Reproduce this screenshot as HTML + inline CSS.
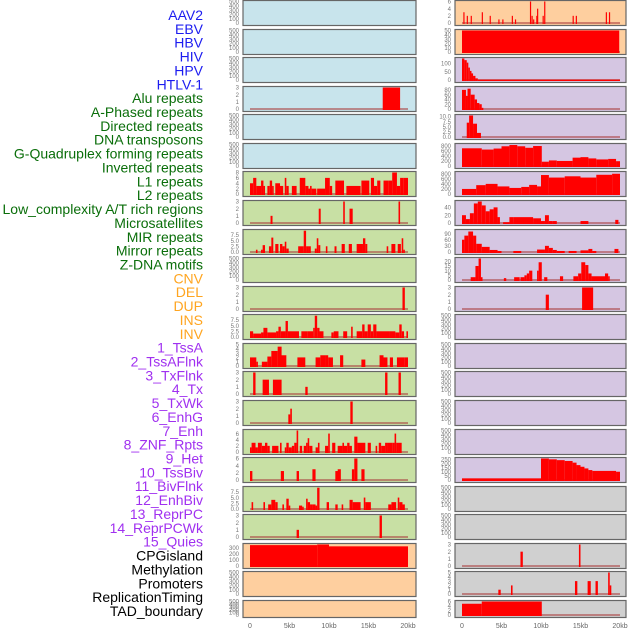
<!DOCTYPE html>
<html><head><meta charset="utf-8">
<style>
body{margin:0;background:#fff;width:630px;height:630px;overflow:hidden;font-family:"Liberation Sans",sans-serif}
svg{display:block}
</style></head>
<body>
<svg id="chart" width="630" height="630"></svg>
<script>
const labels=["AAV2","EBV","HBV","HIV","HPV","HTLV-1","Alu repeats","A-Phased repeats","Directed repeats","DNA transposons","G-Quadruplex forming repeats","Inverted repeats","L1 repeats","L2 repeats","Low_complexity A/T rich regions","Microsatellites","MIR repeats","Mirror repeats","Z-DNA motifs","CNV","DEL","DUP","INS","INV","1_TssA","2_TssAFlnk","3_TxFlnk","4_Tx","5_TxWk","6_EnhG","7_Enh","8_ZNF_Rpts","9_Het","10_TssBiv","11_BivFlnk","12_EnhBiv","13_ReprPC","14_ReprPCWk","15_Quies","CPGisland","Methylation","Promoters","ReplicationTiming","TAD_boundary"];
const labelGroups=[6,13,5,15,5];
const groupColors=["#1c1cf0","#0a6e0a","#ffa520","#a030f0","#000000"];
const xTicks=[0,5,10,15,20];
const xTickLabels=["0","5kb","10kb","15kb","20kb"];
const T500=[0,100,200,300,400,500];
// left column: [bg, ymax, ticks, runs [startKb,endKb,value]]
const leftBg=["#c8e4ec","#c8e4ec","#c8e4ec","#c8e4ec","#c8e4ec","#c8e4ec","#c8e0a4","#c8e0a4","#c8e0a4","#c8e0a4","#c8e0a4","#c8e0a4","#c8e0a4","#c8e0a4","#c8e0a4","#c8e0a4","#c8e0a4","#c8e0a4","#c8e0a4","#fecf9f","#fecf9f","#fecf9f"];
const leftMax=[500,500,500,3,500,500,8,3,9.4,500,3,9.4,5,3,3,7,6,9.4,3,350,500,500];
const leftTicks=[T500,T500,T500,[0,1,2,3],T500,T500,[0,2,4,6,8],[0,1,2,3],[0,2.5,5,7.5],T500,[0,1,2,3],[0,2.5,5,7.5],[0,1,2,3,4,5],[0,1,2,3],[0,1,2,3],[0,2,4,6],[0,2,4,6],[0,2.5,5,7.5],[0,1,2,3],[0,100,200,300],T500,T500];
const leftRuns=[[],[],[],[[16.8,19.0,3]],[],[],
[[0,0.4,4],[0.4,0.8,6],[0.8,1.4,3],[1.4,1.7,5],[1.7,1.9,3],[2.2,2.5,3],[2.5,2.8,5],[2.8,3.0,3],[3.2,3.8,4],[3.8,4.2,3],[4.4,4.6,6],[4.6,4.9,3],[5.3,5.9,3],[6.3,7.0,6],[7.0,7.4,3],[7.4,7.6,2],[7.6,7.8,3],[7.8,8.4,2],[8.5,9.5,2],[9.5,10.1,6],[10.1,10.4,3],[10.8,11.9,5],[12.2,14.0,3],[14.1,15.1,5],[15.3,15.7,6],[15.7,16.1,3],[16.1,16.5,5],[16.9,17.5,5],[17.5,18.0,5],[18.0,18.6,8],[18.6,19.0,3],[19.0,19.4,6],[19.4,20,6]],
[[2.6,2.85,1],[8.7,8.95,2],[11.8,12.0,3],[12.6,13.0,2],[18.8,19.0,3]],
[[0.75,0.95,1],[1.4,1.6,1],[1.6,1.9,3],[2.4,2.7,2.5],[2.7,2.95,6.3],[3.2,3.6,3.5],[3.8,4.1,3.5],[4.1,4.4,2.5],[4.4,4.6,4.5],[4.6,4.9,1.5],[6.1,6.8,2.5],[6.8,7.1,9.3],[7.1,7.4,2.5],[7.4,7.7,2.5],[8.2,8.45,1.5],[8.45,8.65,6],[8.65,8.9,3],[9.6,9.8,2.5],[10.7,10.95,2.5],[11.6,12.0,3.5],[12.5,12.9,3.5],[13.5,14.3,3.5],[14.3,14.6,6],[14.6,14.85,3.5],[17.3,17.5,2.5],[17.9,18.4,3.5],[18.7,19.1,3.5],[19.2,19.4,6],[19.4,19.6,1]],
[],[[19.3,19.6,3]],
[[0,0.4,2.5],[0.4,1.4,1.5],[1.4,1.7,2],[1.7,2.2,4],[2.2,3.3,2],[3.3,3.6,2.5],[3.6,3.9,4.5],[3.9,4.5,2.5],[4.5,4.8,7],[4.8,6.2,2.5],[6.5,7.3,2.5],[7.3,8.0,2.5],[8.0,8.2,4],[8.2,8.5,9.3],[8.5,8.8,4],[8.8,9.3,2.5],[10.3,10.6,2],[10.6,11.2,2.5],[11.8,12.3,2.5],[12.8,13.0,4.5],[13.5,14.2,2.5],[14.2,14.5,5.5],[14.5,14.9,2.5],[14.9,15.3,5.5],[15.3,15.6,2.5],[15.6,16.0,5.5],[16.0,17.6,2.5],[17.6,18.4,2.5],[18.4,18.9,2],[18.9,19.2,5.5],[19.2,19.5,2.5],[19.8,20,2.5]],
[[0,0.8,2],[0.8,1.0,1],[1.5,2.2,1],[2.2,2.7,2.2],[2.7,3.5,3.5],[3.5,4.0,4.5],[3.9,4.6,2.5],[6.0,7.0,2],[8.3,8.9,2],[8.9,9.5,2.5],[9.5,9.9,2.5],[9.9,10.5,2],[11.4,11.8,2.5],[14.1,14.6,1.5],[16.4,16.9,2.5],[16.9,17.4,2],[17.7,18.1,2],[18.6,19.6,2],[19.6,20,2]],
[[0.4,0.7,3],[1.6,2.4,2],[2.9,4.0,2],[7.0,7.3,1],[17.1,17.4,3],[18.8,19.1,3]],
[[4.85,5.1,1.2],[5.1,5.3,2],[12.7,13.0,3]],
[[0,0.2,1.5],[0.2,0.7,3],[0.7,1.0,1.5],[1.0,1.5,3],[1.5,1.9,2],[1.9,2.2,3],[2.2,2.5,2],[2.8,3.6,2],[3.8,4.0,3],[4.4,4.6,1.5],[4.6,4.9,3],[4.9,5.3,1.5],[5.3,5.6,2],[5.6,5.9,3],[5.9,6.1,7],[6.3,6.6,2],[6.8,7.1,2],[7.1,7.3,3],[7.3,7.5,4.5],[7.5,7.9,2],[8.3,8.6,1.5],[8.6,8.8,3],[9.5,9.9,2],[9.9,10.1,6],[10.4,10.8,3],[11.1,11.7,2],[11.7,11.9,3],[11.9,12.3,2],[12.3,12.6,3],[12.6,12.9,2],[13.2,13.6,5],[13.6,14.6,3],[14.9,15.3,3],[15.9,16.1,2],[16.3,16.6,3],[16.6,17.1,2],[17.1,17.4,3],[17.4,18.0,3],[18.0,18.3,3],[18.3,18.5,6],[18.5,18.8,3],[18.8,19.2,3]],
[[0,0.3,2.5],[3.9,4.3,2.5],[5.9,6.2,2.5],[7.9,8.3,3],[10.8,11.2,2.5],[11.1,11.5,3],[12.9,13.2,3],[13.2,13.6,6],[14.1,14.5,3]],
[[0.2,0.4,3],[1.7,1.9,3],[2.3,2.7,2],[2.7,3.2,4],[3.2,3.5,3],[4.1,4.3,2],[4.6,4.9,4.5],[4.9,5.1,1.5],[6.2,6.6,1.5],[6.6,6.8,1],[7.1,7.3,4.5],[7.3,7.6,3],[7.6,7.9,2],[7.9,8.3,2],[8.3,8.5,1.5],[8.5,8.8,9.3],[9.7,10.0,3],[10.8,11.1,2],[11.6,11.8,2],[12.6,13.0,4],[13.0,14.0,3],[14.4,14.6,5],[14.6,15.3,3],[17.5,17.9,2],[17.9,18.1,3],[18.1,18.5,3],[18.7,18.9,5],[18.9,19.3,3],[19.3,19.6,2]],
[[5.9,6.2,1],[16.4,16.7,3]],
[[0,8.5,340],[8.5,10.0,350],[10.0,20,320]],
[],[]];
// right column
const rightBg=["#fecf9f","#fecf9f","#d5c6e2","#d5c6e2","#d5c6e2","#d5c6e2","#d5c6e2","#d5c6e2","#d5c6e2","#d5c6e2","#d5c6e2","#d5c6e2","#d5c6e2","#d5c6e2","#d5c6e2","#d5c6e2","#d5c6e2","#d0d0d0","#d0d0d0","#d0d0d0","#d0d0d0","#d0d0d0"];
const rightMax=[6,50,130,90,10.5,850,850,55,105,23,3,500,500,500,500,500,260,500,500,3,5,6];
const rightTicks=[[0,2,4,6],[0,10,20,30,40,50],[0,50,100],[0,20,40,60,80],[0,2.5,5,7.5,10],[0,200,400,600,800],[0,200,400,600,800],[0,20,40],[0,30,60,90],[0,5,10,15,20],[0,1,2,3],T500,T500,T500,T500,T500,[0,50,100,150,200,250],T500,T500,[0,1,2,3],[0,1,2,3,4,5],[0,2,4,6]];
const spikes1=[[0.17,3],[0.6,2],[1.1,2],[2.5,3],[3.5,2],[4.6,1],[5.1,1],[6.3,2],[6.7,1],[8.6,6],[8.8,2],[9.0,1],[9.4,2],[9.5,4],[10.2,2],[10.4,6],[14.0,2],[14.4,2],[18.2,3],[18.6,3]];
const rightRuns=[
spikes1.map(s=>[s[0],s[0]+0.15,s[1]]),
[[0,19.9,50]],
[[0,0.3,130],[0.3,0.6,120],[0.6,0.8,105],[0.8,1.0,75],[1.0,1.2,55],[1.2,1.4,40],[1.4,1.7,25],[1.7,2.0,10],[2.0,20,2]],
[[0,0.5,80],[0.5,0.7,55],[0.7,1.1,85],[1.1,1.6,60],[1.6,1.9,40],[1.9,2.2,25],[2.2,2.5,20],[2.5,2.7,5]],
[[0.6,0.9,7],[0.9,1.4,10.5],[1.4,1.9,6.5],[1.9,2.4,2]],
[[0,2.5,700],[2.5,4,650],[4,5,690],[5,6,780],[6,7,830],[7,8,780],[8,9,720],[9,10.1,790],[10.1,11,170],[11,12,220],[12,14,200],[14,15,330],[15,16,350],[16,17,300],[17,18.5,260],[18.5,19.5,280],[19.5,20,190]],
[[0,1.8,200],[1.8,3,350],[3,4.5,400],[4.5,6,300],[6,7.5,240],[7.5,8.5,280],[8.5,9.5,360],[9.5,10,300],[10,11,750],[11,13,650],[13,15,700],[15,17,650],[17,19,760],[19,20,800]],
[[0,0.5,20],[0.5,1,10],[1,1.5,25],[1.5,2,50],[2,2.5,55],[2.5,3,45],[3,3.5,30],[3.5,4,35],[4,4.5,40],[4.5,4.8,15],[5.2,6,2],[6,6.5,15],[6.5,9,15],[9,10,12],[10,10.5,5],[10.5,11,20],[11,11.5,5],[11.5,12,5],[15,16,5],[19.4,19.8,8]],
[[0,0.3,60],[0.3,0.8,80],[0.8,1.4,100],[1.4,1.8,80],[1.8,2.5,40],[2.5,3.5,25],[3.5,4.5,10],[4.5,5,5],[6.5,7.5,5],[9.5,10.5,12],[10.5,11,30],[11,11.5,20],[11.5,12,10],[12,13,5],[13.5,14.5,5],[15,16,8],[16,16.5,15],[16.5,17,5],[19.3,19.8,15]],
[[1.1,1.7,3],[1.7,2.1,15],[2.1,2.4,23],[2.4,2.6,3],[5.3,5.6,2],[6.6,7.3,3],[7.4,7.9,3],[7.9,8.2,5],[8.2,8.5,7],[8.5,8.9,10],[9.5,9.7,10],[9.7,10.1,19],[10.4,10.8,3],[12.4,12.8,4],[14.1,14.7,4],[14.7,15.1,7],[15.1,15.6,19],[15.6,16.0,16],[16.0,16.4,7],[16.4,18.1,4],[18.1,18.5,7],[18.5,18.7,4]],
[[10.6,11.0,2],[15.2,16.6,3]],
[],[],[],[],[],
[[0,10,20],[10,11,260],[11,12,250],[12,13,240],[13,14,230],[14,14.5,210],[14.5,15,180],[15,15.5,160],[15.5,16,140],[16,16.5,120],[16.5,19.5,110],[19.5,20,100]],
[],[],
[[7.4,7.7,2],[14.8,15.0,3]],
[[4.6,4.9,1],[6.2,6.4,2],[14.3,14.6,3],[15.9,16.3,3],[16.9,17.2,3],[18.5,18.7,5],[18.7,18.9,2]],
[[0,2.5,5],[2.5,10.1,6]]];

const NS="http://www.w3.org/2000/svg";
const svg=document.getElementById('chart');
function el(tag,attrs,parent){const e=document.createElementNS(NS,tag);for(const k in attrs)e.setAttribute(k,attrs[k]);(parent||svg).appendChild(e);return e;}
// labels
let li=0;
labelGroups.forEach((n,g)=>{for(let j=0;j<n;j++){const t=el('text',{x:203,y:20+li*13.86,'text-anchor':'end','font-size':'14',fill:groupColors[g]});t.textContent=labels[li];


li++;}});
const cols=[{x0:243,x1:416,org:250,bg:leftBg,max:leftMax,ticks:leftTicks,runs:leftRuns},{x0:455,x1:626,org:462,bg:rightBg,max:rightMax,ticks:rightTicks,runs:rightRuns}];
const kbPx=7.9;
function fmt(v,ticks){const frac=ticks.some(t=>t%1!==0);return frac?v.toFixed(1):String(v);}
cols.forEach((c,ci)=>{
 for(let r=0;r<22;r++){
  const top=Math.round(r*28.57), h=(r===21?17:25), bot=top+h;
  const g=el('g',{});
  
  
  el('rect',{x:c.x0,y:top+0.5,width:c.x1-c.x0,height:h,fill:c.bg[r],stroke:'#666','stroke-width':1.2},g);
  const y0=bot-2, y1=top+1.5, m=c.max[r];
  const yS=v=>y0-(v/m)*(y0-y1);
  const xS=kb=>c.org+kb*kbPx;
  c.ticks[r].forEach(t=>{const tx=el('text',{x:c.x0-4,y:yS(t)+2.2,'text-anchor':'end','font-size':6,fill:'#777'},g);tx.textContent=fmt(t,c.ticks[r]);});
  const runs=c.runs[r];
  if(runs.length){el('rect',{x:xS(0),y:y0-1,width:20*kbPx,height:2,fill:'rgba(170,60,60,0.55)'},g);}
  runs.forEach(d=>{const b=el('rect',{x:xS(d[0]),y:yS(d[2]),width:Math.max(1,(d[1]-d[0])*kbPx),height:y0-yS(d[2])+1,fill:'#ff0000'},g);
   
   });
 }
 xTicks.forEach((t,i)=>{const tx=el('text',{x:c.org+t*kbPx,y:628,'text-anchor':'middle','font-size':7,fill:'#666'});tx.textContent=xTickLabels[i];
  
  });
});
</script>
</body></html>
